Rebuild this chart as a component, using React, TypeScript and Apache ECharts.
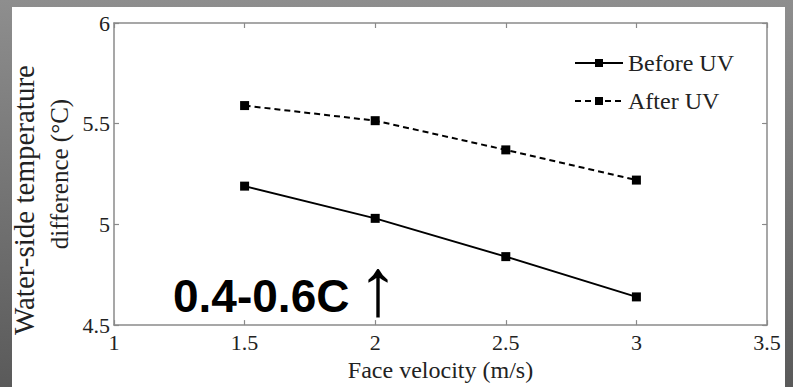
import React, { useEffect, useRef } from "react";
import * as echarts from "echarts";

const velocity = [1.5, 2, 2.5, 3];
const beforeUV = [5.19, 5.03, 4.84, 4.64];
const afterUV = [5.59, 5.515, 5.37, 5.22];
const seriesNames = ["Before UV", "After UV"];
const xTitle = "Face velocity (m/s)";
const yTitle1 = "Water-side temperature";
const yTitle2 = "difference (°C)";
const annotation = "0.4-0.6C";
const arrow = "↑";

const serif = "Liberation Serif";
const axisGray = "#8a8a8a";

export default function App() {
  const ref = useRef<HTMLDivElement>(null);
  useEffect(() => {
    if (!ref.current) return;
    const chart = echarts.init(ref.current, undefined, { renderer: "svg" });
    const toPairs = (ys: number[]) => velocity.map((x, i) => [x, ys[i]]);
    const baseX = {
      type: "value" as const,
      min: 1,
      max: 3.5,
      interval: 0.5,
      splitLine: { show: false },
      axisLine: { show: true, lineStyle: { color: axisGray, width: 1.5 } },
      axisTick: { show: true, inside: true, length: 5, lineStyle: { color: axisGray, width: 1.2 } },
    };
    const baseY = {
      type: "value" as const,
      min: 4.5,
      max: 6,
      interval: 0.5,
      splitLine: { show: false },
      axisLine: { show: true, lineStyle: { color: axisGray, width: 1.5 } },
      axisTick: { show: true, inside: true, length: 5, lineStyle: { color: axisGray, width: 1.2 } },
    };
    chart.setOption({
      animation: false,
      backgroundColor: "transparent",
      grid: { left: 114, right: 26, top: 23, bottom: 54, containLabel: false },
      legend: {
        left: 569,
        top: 46,
        orient: "vertical",
        itemWidth: 48,
        itemHeight: 10,
        itemGap: 14,
        data: seriesNames,
        textStyle: { fontFamily: serif, fontSize: 24, color: "#222" },
      },
      xAxis: [
        {
          ...baseX,
          position: "bottom",
          name: xTitle,
          nameLocation: "middle",
          nameGap: 30,
          nameTextStyle: { fontFamily: serif, fontSize: 24, color: "#222" },
          axisLabel: { fontFamily: serif, fontSize: 22, color: "#222", margin: 6 },
        },
        { ...baseX, position: "top", axisLabel: { show: false } },
      ],
      yAxis: [
        {
          ...baseY,
          position: "left",
          name: `{a|${yTitle1}}\n{b|${yTitle2}}`,
          nameLocation: "middle",
          nameGap: 36,
          nameTextStyle: {
            color: "#222",
            fontFamily: serif,
            rich: {
              a: { fontFamily: serif, fontSize: 29, lineHeight: 35, color: "#222", padding: [0, 52, 0, 0] },
              b: { fontFamily: serif, fontSize: 25, lineHeight: 35, color: "#222" },
            },
          },
          axisLabel: { fontFamily: serif, fontSize: 22, color: "#222", margin: 4 },
        },
        { ...baseY, position: "right", axisLabel: { show: false } },
      ],
      graphic: [
        {
          type: "text",
          x: 173,
          y: 296,
          style: {
            text: annotation,
            verticalAlign: "middle",
            fontFamily: "Liberation Sans",
            fontWeight: "bold",
            fontSize: 46,
            fill: "#000",
          },
        },
        {
          type: "text",
          x: 378,
          y: 286,
          style: {
            text: arrow,
            align: "center",
            verticalAlign: "middle",
            fontFamily: "Liberation Sans",
            fontWeight: "normal",
            fontSize: 82,
            fill: "#000",
          },
        },
      ],
      series: [
        {
          name: seriesNames[0],
          type: "line",
          xAxisIndex: 0,
          yAxisIndex: 0,
          data: toPairs(beforeUV),
          symbol: "rect",
          symbolSize: 9,
          lineStyle: { color: "#000", width: 2 },
          itemStyle: { color: "#000" },
        },
        {
          name: seriesNames[1],
          type: "line",
          xAxisIndex: 0,
          yAxisIndex: 0,
          data: toPairs(afterUV),
          symbol: "rect",
          symbolSize: 9,
          lineStyle: { color: "#000", width: 2, type: [6, 4] },
          itemStyle: { color: "#000" },
        },
      ],
    });
    return () => chart.dispose();
  }, []);
  return (
    <div
      style={{
        position: "fixed",
        left: 0,
        top: 0,
        width: 793,
        height: 387,
        background: "linear-gradient(to bottom, #8e8e8e, #5a5a5a)",
      }}
    >
      <div
        style={{
          position: "absolute",
          left: 12,
          top: 7,
          width: 773,
          height: 380,
          background: "#fff",
        }}
      />
      <div ref={ref} style={{ position: "absolute", left: 0, top: 0, width: 793, height: 387 }} />
    </div>
  );
}
